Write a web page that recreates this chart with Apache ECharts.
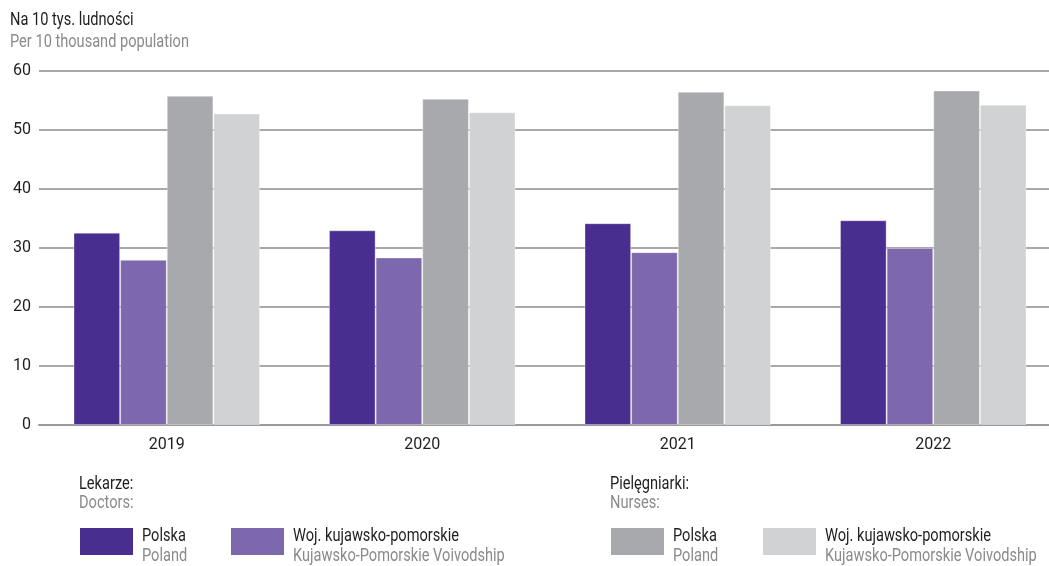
<!DOCTYPE html>
<html><head><meta charset="utf-8">
<script src="https://cdn.jsdelivr.net/npm/echarts@6/dist/echarts.min.js"></script>
<style>html,body{margin:0;padding:0;background:#fff;overflow:hidden}#c{width:1061px;height:566px}</style>
</head><body><div id="c"></div>
<script>
const years = ['2019', '2020', '2021', '2022'];
const doctorsPoland = [32.6, 33.0, 34.2, 34.7];
const doctorsKuj = [28.0, 28.4, 29.3, 30.0];
const nursesPoland = [55.8, 55.3, 56.5, 56.7];
const nursesKuj = [52.8, 53.0, 54.2, 54.3];
const yTicks = [0, 10, 20, 30, 40, 50, 60];

const FONT = 'Roboto, "Liberation Sans", sans-serif';
const DARK = '#1e1e1e', GREY = '#8a8a8a';
const colors = ['#482E8F', '#7D67AD', '#A8A9AD', '#D1D2D4'];
const seriesData = [doctorsPoland, doctorsKuj, nursesPoland, nursesKuj];
const seriesNames = ['Lekarze – Polska', 'Lekarze – Woj. kujawsko-pomorskie', 'Pielęgniarki – Polska', 'Pielęgniarki – Woj. kujawsko-pomorskie'];

// horizontal condensing factor to mimic the narrow typeface of the original
const TS = 19;
const ctx = document.createElement('canvas').getContext('2d');
ctx.font = TS + 'px ' + FONT;
const SX = 179 / ctx.measureText('Per 10 thousand population').width;

const chart = echarts.init(document.getElementById('c'), null, {renderer: 'canvas'});

function txt(x, y, s, color) {
  return {type: 'text', x: x, y: y, scaleX: SX, style: {text: s, fill: color, font: TS + 'px ' + FONT, verticalAlign: 'middle', align: 'left'}};
}
const legendItems = [
  {x: 80, c: 0, a: 'Polska', b: 'Poland'},
  {x: 231, c: 1, a: 'Woj. kujawsko-pomorskie', b: 'Kujawsko-Pomorskie Voivodship'},
  {x: 611, c: 2, a: 'Polska', b: 'Poland'},
  {x: 763, c: 3, a: 'Woj. kujawsko-pomorskie', b: 'Kujawsko-Pomorskie Voivodship'}
];
const graphics = [
  txt(10, 20, 'Na 10 tys. ludności', DARK),
  txt(10, 42.5, 'Per 10 thousand population', GREY),
  txt(79, 484.5, 'Lekarze:', DARK),
  txt(79, 503, 'Doctors:', GREY),
  txt(610, 484.5, 'Pielęgniarki:', DARK),
  txt(610, 503, 'Nurses:', GREY)
];
legendItems.forEach(it => {
  graphics.push({type: 'rect', shape: {x: it.x, y: 528, width: 53, height: 27}, style: {fill: colors[it.c]}});
  graphics.push(txt(it.x + 62, 536, it.a, DARK));
  graphics.push(txt(it.x + 62, 556.5, it.b, GREY));
});

chart.setOption({
  animation: false,
  grid: {left: 39, top: 71, right: 0, bottom: 141, containLabel: false},
  xAxis: {
    type: 'category', data: years,
    axisLine: {lineStyle: {color: '#9a9a9a', width: 2}},
    axisTick: {show: false},
    axisLabel: {color: DARK, fontFamily: FONT, fontSize: 16, margin: 12}
  },
  yAxis: {
    type: 'value', min: 0, max: 60, interval: 10,
    axisLine: {show: false}, axisTick: {show: false},
    axisLabel: {color: DARK, fontFamily: FONT, fontSize: 16, margin: 8,
      formatter: v => yTicks.includes(v) ? String(v) : ''},
    splitLine: {lineStyle: {color: '#8c8c8c', width: 1.5}}
  },
  series: seriesData.map((d, i) => ({
    type: 'bar', name: seriesNames[i], data: d,
    barGap: '0%', barCategoryGap: '27%',
    itemStyle: {color: colors[i], borderColor: 'rgba(255,255,255,0.35)', borderWidth: 1}
  })),
  graphic: graphics
});
</script></body></html>
